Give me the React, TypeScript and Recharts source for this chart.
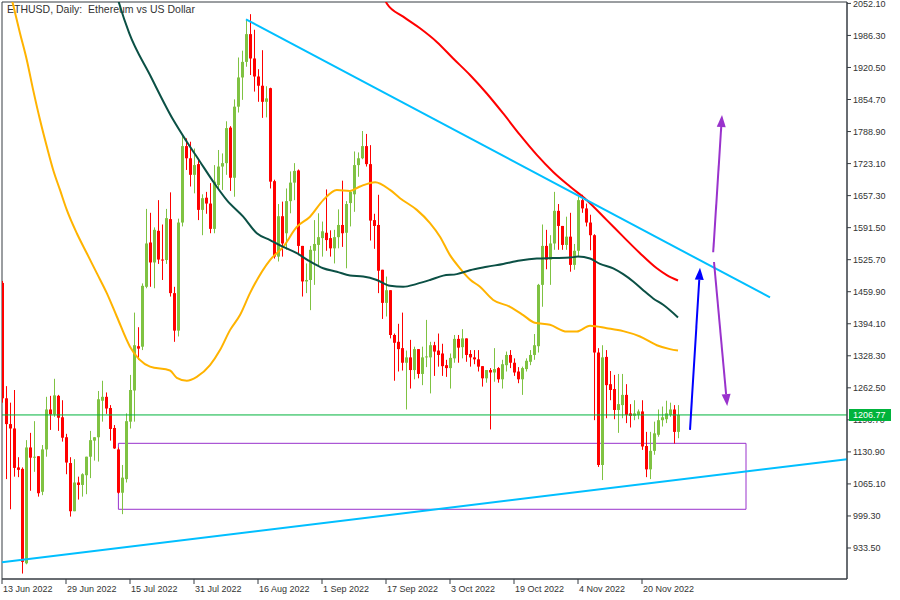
import React from "react";
import {
  ComposedChart, Bar, Line, XAxis, YAxis, ReferenceLine, ReferenceArea,
} from "recharts";

// daily ETHUSD candles, day 0 = 13 Jun 2022
const opens = [
  1478, 1241, 1188, 1179, 1099, 1096, 902, 1140, 1119, 1122,
  1049, 1136, 1218, 1208, 1246, 1202, 1161, 1108, 1009, 1068,
  1063, 1083, 1121, 1154, 1161, 1236, 1244, 1221, 1180, 1136,
  1047, 1075, 1193, 1257, 1348, 1347, 1470, 1561, 1520, 1585,
  1526, 1525, 1609, 1457, 1380, 1602, 1759, 1734, 1700, 1722,
  1628, 1653, 1641, 1589, 1679, 1717, 1724, 1797, 1694, 1840,
  1900, 1932, 1989, 1939, 1902, 1883, 1850, 1878, 1687, 1532,
  1615, 1580, 1646, 1684, 1709, 1554, 1481, 1484, 1544, 1556,
  1570, 1581, 1570, 1549, 1572, 1597, 1581, 1642, 1660, 1720,
  1734, 1759, 1722, 1607, 1597, 1505, 1437, 1463, 1371, 1357,
  1344, 1314, 1325, 1299, 1342, 1291, 1325, 1325, 1350, 1339,
  1333, 1309, 1303, 1323, 1363, 1346, 1364, 1332, 1325, 1321,
  1307, 1282, 1299, 1294, 1303, 1280, 1309, 1330, 1314, 1296,
  1280, 1301, 1316, 1330, 1348, 1474, 1554, 1526, 1559, 1626,
  1595, 1556, 1573, 1515, 1544, 1648, 1631, 1602, 1576, 1335,
  1104, 1326, 1270, 1260, 1217, 1227, 1248, 1210, 1205, 1207,
  1214, 1143, 1095, 1133, 1166, 1196, 1198, 1207, 1218, 1172,
];
const highs = [
  1482, 1266, 1232, 1258, 1120, 1099, 1155, 1170, 1194, 1122,
  1145, 1244, 1246, 1281, 1248, 1237, 1168, 1120, 1116, 1080,
  1087, 1121, 1174, 1161, 1256, 1277, 1253, 1227, 1186, 1140,
  1104, 1210, 1289, 1417, 1387, 1477, 1630, 1622, 1592, 1648,
  1598, 1630, 1664, 1470, 1610, 1782, 1775, 1768, 1754, 1732,
  1660, 1665, 1683, 1720, 1751, 1744, 1810, 1800, 1855, 1941,
  1955, 2019, 2030, 1998, 1917, 1956, 1882, 1879, 1690, 1640,
  1645, 1672, 1707, 1724, 1711, 1554, 1518, 1554, 1607, 1621,
  1604, 1670, 1586, 1587, 1629, 1688, 1646, 1668, 1748, 1746,
  1790, 1784, 1761, 1620, 1659, 1505, 1491, 1463, 1374, 1394,
  1417, 1339, 1361, 1347, 1342, 1347, 1402, 1357, 1357, 1374,
  1353, 1320, 1333, 1371, 1371, 1383, 1364, 1340, 1340, 1340,
  1307, 1299, 1303, 1344, 1305, 1320, 1337, 1340, 1323, 1305,
  1306, 1323, 1340, 1373, 1476, 1598, 1587, 1576, 1665, 1640,
  1595, 1614, 1622, 1558, 1655, 1659, 1641, 1618, 1578, 1344,
  1350, 1340, 1297, 1289, 1291, 1291, 1270, 1229, 1237, 1218,
  1237, 1172, 1172, 1193, 1218, 1224, 1236, 1232, 1227, 1227,
];
const lows = [
  1232, 1075, 1013, 1080, 1079, 881, 900, 1051, 1090, 1039,
  1042, 1121, 1176, 1203, 1174, 1152, 1085, 998, 1009, 1033,
  1039, 1044, 1077, 1113, 1111, 1193, 1209, 1154, 1137, 1045,
  1003, 1068, 1179, 1193, 1320, 1340, 1467, 1470, 1467, 1517,
  1484, 1517, 1450, 1357, 1368, 1594, 1710, 1676, 1662, 1607,
  1576, 1620, 1580, 1580, 1669, 1669, 1700, 1667, 1655, 1828,
  1854, 1922, 1905, 1871, 1850, 1817, 1818, 1672, 1528, 1522,
  1532, 1546, 1621, 1648, 1535, 1450, 1457, 1422, 1474, 1511,
  1532, 1544, 1532, 1518, 1549, 1552, 1508, 1594, 1624, 1696,
  1732, 1717, 1565, 1548, 1457, 1404, 1409, 1364, 1277, 1296,
  1298, 1218, 1261, 1280, 1282, 1268, 1305, 1251, 1287, 1306,
  1287, 1285, 1261, 1314, 1314, 1323, 1316, 1306, 1311, 1296,
  1265, 1273, 1177, 1275, 1273, 1261, 1296, 1303, 1287, 1272,
  1248, 1296, 1309, 1320, 1335, 1429, 1506, 1474, 1546, 1546,
  1546, 1546, 1501, 1505, 1531, 1622, 1594, 1545, 1196, 1100,
  1073, 1200, 1237, 1198, 1170, 1200, 1190, 1181, 1196, 1198,
  1135, 1079, 1075, 1125, 1162, 1183, 1190, 1203, 1148, 1159,
];
const closes = [
  1241, 1188, 1179, 1098, 1094, 905, 1140, 1119, 1121, 1046,
  1136, 1218, 1208, 1247, 1201, 1160, 1109, 1009, 1068, 1063,
  1085, 1121, 1155, 1161, 1239, 1244, 1220, 1178, 1138, 1047,
  1078, 1194, 1258, 1350, 1343, 1472, 1559, 1520, 1587, 1526,
  1524, 1611, 1457, 1380, 1602, 1759, 1734, 1700, 1720, 1628,
  1652, 1641, 1589, 1686, 1717, 1724, 1796, 1694, 1840, 1900,
  1932, 1989, 1939, 1902, 1883, 1850, 1857, 1686, 1532, 1615,
  1559, 1646, 1684, 1708, 1554, 1481, 1484, 1546, 1558, 1572,
  1584, 1566, 1549, 1572, 1597, 1580, 1640, 1665, 1720, 1734,
  1759, 1722, 1606, 1595, 1503, 1437, 1463, 1371, 1355, 1342,
  1314, 1325, 1299, 1342, 1291, 1325, 1327, 1350, 1337, 1330,
  1307, 1303, 1324, 1363, 1345, 1364, 1330, 1325, 1321, 1306,
  1282, 1299, 1294, 1301, 1280, 1311, 1330, 1314, 1294, 1280,
  1303, 1318, 1330, 1350, 1474, 1554, 1526, 1559, 1626, 1595,
  1556, 1573, 1515, 1544, 1648, 1631, 1602, 1576, 1335, 1104,
  1325, 1268, 1258, 1217, 1229, 1248, 1207, 1205, 1210, 1214,
  1142, 1095, 1133, 1169, 1196, 1202, 1210, 1218, 1172, 1206.77,
];

const dateTicks = [0, 16, 32, 48, 64, 80, 96, 112, 128, 144, 160];
const dateLabels = [
  "13 Jun 2022", "29 Jun 2022", "15 Jul 2022", "31 Jul 2022", "16 Aug 2022",
  "1 Sep 2022", "17 Sep 2022", "3 Oct 2022", "19 Oct 2022", "4 Nov 2022", "20 Nov 2022",
];
const priceTicks = [
  2052.1, 1986.3, 1920.5, 1854.7, 1788.9, 1723.1, 1657.3, 1591.5, 1525.7,
  1459.9, 1394.1, 1328.3, 1262.5, 1196.7, 1130.9, 1065.1, 999.3, 933.5,
];

// moving averages: [day, price]
const maOrange = [
  [2, 2076], [2.7, 2052], [4.5, 1991], [6.2, 1936], [7.8, 1874], [9.5, 1813],
  [11.2, 1758], [12.8, 1710], [14.5, 1669], [16.2, 1628], [18.7, 1580], [21.2, 1539],
  [23.7, 1498], [26.2, 1457], [28.7, 1409], [32, 1347], [37, 1306], [42, 1298],
  [43.7, 1283], [46.2, 1277], [48.7, 1285], [52, 1309], [54.5, 1340], [57, 1381],
  [59.5, 1412], [62, 1457], [67, 1525], [70.3, 1552], [73.7, 1593], [77, 1614],
  [80.3, 1648], [83.7, 1669], [87, 1667], [89.5, 1676], [93.3, 1685], [97, 1669],
  [99.5, 1652], [103.7, 1628], [107, 1601], [109.5, 1573], [112, 1535], [114.5, 1508],
  [117, 1485], [119.5, 1470], [122.8, 1443], [127, 1429], [130.3, 1412], [133.2, 1396],
  [137, 1392], [141.2, 1378], [143.7, 1378], [147, 1390], [151.2, 1385], [155.3, 1379],
  [159.5, 1368], [163.7, 1350], [167, 1342], [169, 1339],
];
const maGreen = [
  [28.5, 2075], [29.3, 2052], [31.8, 1991], [37, 1905], [42.8, 1813], [46.2, 1768],
  [49.5, 1727], [52.8, 1686], [56.2, 1648], [60.3, 1614], [63.7, 1580], [67, 1566],
  [70.3, 1552], [73.7, 1539], [77, 1522], [80.3, 1508], [83.7, 1501], [87, 1493],
  [90.3, 1491], [93.7, 1484], [97, 1472], [100.3, 1470], [103.7, 1476], [107, 1484],
  [110.3, 1493], [113.7, 1496], [117, 1504], [121.2, 1511], [125.3, 1517], [129.5, 1524],
  [133.7, 1528], [137.8, 1529], [142, 1530], [144, 1532], [147, 1528], [149.5, 1517],
  [152.8, 1508], [155.3, 1496], [157.8, 1481], [160.3, 1463], [162.8, 1446], [165.3, 1433],
  [169, 1407],
];
const maRed = [
  [95, 2074], [96.2, 2052], [100.3, 2025], [104.5, 2001], [108.7, 1973], [112.8, 1939],
  [117, 1905], [121.2, 1867], [125.3, 1826], [129.5, 1782], [133.7, 1741], [137.8, 1706],
  [142, 1676], [146.2, 1648], [151.2, 1607], [155.3, 1573], [159.5, 1539], [163.7, 1508],
  [166.2, 1494], [169, 1483],
];

// drawn objects: [day, price] pairs
const upperTrend = [[61, 2019.4], [192, 1448.2]];
const lowerTrend = [[0, 904], [211.25, 1116]];
const blueArrow = [[172, 1176], [174.5, 1509]];
const purpleUp = [[177.8, 1541], [180, 1823]];
const purpleDown = [[178, 1521], [181.3, 1225]];
const zoneDays = [29.1, 186];
const zonePrices = [1013, 1148.5];
const lastPrice = 1206.77;

const dayDomain = [0, 211.25];
const priceDomain = [869.8, 2055];
const PLOT_TOP = 2;
const PLOT_BOTTOM = 579;

const BULL = "#7fc242";
const BEAR = "#ff0000";
const FRAME = "#363c42";
const TEXT = "#333333";
const TAG = "#00b33c";
const FONT = "'Liberation Sans', Arial, sans-serif";

const candles = opens.map((o, i) => ({
  d: i, o, h: highs[i], l: lows[i], c: closes[i], range: [lows[i], highs[i]],
}));
const toPts = (arr: number[][]) => arr.map(([d, v]) => ({ d, v }));
const seg = (arr: number[][]) => arr.map(([x, y]) => ({ x, y }));

// y of the last-price tag, same linear mapping as the right axis
const tagY = PLOT_TOP + ((priceDomain[1] - lastPrice) / (priceDomain[1] - priceDomain[0])) * (PLOT_BOTTOM - PLOT_TOP);

const Candle = (props: any) => {
  const { x, y, width, height, payload } = props;
  const { o, h, l, c } = payload;
  const cx = Math.round(x + width / 2);
  const span = h - l || 1;
  const py = (p: number) => y + ((h - p) / span) * height;
  const color = c >= o ? BULL : BEAR;
  const top = py(Math.max(o, c));
  const bot = py(Math.min(o, c));
  return (
    <g>
      <line x1={cx + 0.5} x2={cx + 0.5} y1={y} y2={y + height} stroke={color} strokeWidth={1} />
      <rect x={cx - 1} y={top} width={3} height={Math.max(1, bot - top)} fill={color} />
    </g>
  );
};

const arrowShape = (color: string) => (props: any) => {
  const { x1, y1, x2, y2 } = props;
  const dx = x2 - x1, dy = y2 - y1;
  const len = Math.sqrt(dx * dx + dy * dy) || 1;
  const ux = dx / len, uy = dy / len;
  const bx = x2 - ux * 12, by = y2 - uy * 12;
  const pts = `${x2},${y2} ${bx - uy * 4.5},${by + ux * 4.5} ${bx + uy * 4.5},${by - ux * 4.5}`;
  return (
    <g>
      <line x1={x1} y1={y1} x2={bx} y2={by} stroke={color} strokeWidth={2} />
      <polygon points={pts} fill={color} />
    </g>
  );
};

const DateTick = (props: any) => {
  const { x, payload } = props;
  const i = dateTicks.indexOf(payload.value);
  return (
    <text x={x + 1} y={592} fontSize={9} fontFamily={FONT} fill={TEXT} textAnchor="start">
      {dateLabels[i]}
    </text>
  );
};

const PriceTick = (props: any) => {
  const { x, y, payload } = props;
  return (
    <text x={x} y={y + 3.3} fontSize={9} fontFamily={FONT} fill={TEXT} textAnchor="start">
      {Number(payload.value).toFixed(2)}
    </text>
  );
};

export default function App() {
  return (
    <div style={{ position: "absolute", left: 0, top: 0, width: 900, height: 600, background: "#fff" }}>
      <div style={{
        position: "absolute", left: 7, top: 3, fontSize: 10.5, fontFamily: FONT, color: TEXT,
        whiteSpace: "pre",
      }}>
        {"ETHUSD, Daily:  Ethereum vs US Dollar"}
      </div>
      <div style={{ position: "absolute", left: 0, top: 0 }}>
        <ComposedChart width={900} height={600} data={candles}
          margin={{ top: PLOT_TOP, right: 0, bottom: 0, left: 2 }}>
          <XAxis dataKey="d" type="number" domain={dayDomain} allowDataOverflow
            ticks={dateTicks} interval={0} tick={<DateTick />} height={600 - PLOT_BOTTOM}
            tickSize={5} tickLine={{ stroke: FRAME }} axisLine={{ stroke: FRAME }} />
          <YAxis orientation="right" type="number" domain={priceDomain} allowDataOverflow
            ticks={priceTicks} interval={0} width={53} tickSize={4}
            tick={<PriceTick />} tickLine={{ stroke: FRAME }} axisLine={{ stroke: FRAME }} />
          <ReferenceArea x1={dayDomain[0]} x2={dayDomain[1]} y1={priceDomain[0]} y2={priceDomain[1]}
            fill="none" fillOpacity={0} stroke={FRAME} strokeWidth={1} />
          <ReferenceArea x1={zoneDays[0]} x2={zoneDays[1]} y1={zonePrices[0]} y2={zonePrices[1]}
            fill="none" fillOpacity={0} stroke="#9932cc" strokeWidth={1} />
          <ReferenceLine y={lastPrice} stroke={TAG} strokeWidth={1} />
          <Line data={toPts(maOrange)} dataKey="v" type="monotone" stroke="#ffb300"
            strokeWidth={2} dot={false} isAnimationActive={false} />
          <Line data={toPts(maGreen)} dataKey="v" type="monotone" stroke="#0b5045"
            strokeWidth={2} dot={false} isAnimationActive={false} />
          <Line data={toPts(maRed)} dataKey="v" type="monotone" stroke="#ff0000"
            strokeWidth={2} dot={false} isAnimationActive={false} />
          <Bar dataKey="range" barSize={3} shape={<Candle />} isAnimationActive={false} />
          <ReferenceLine segment={seg(upperTrend)} stroke="#00bfff" strokeWidth={2} />
          <ReferenceLine segment={seg(lowerTrend)} stroke="#00bfff" strokeWidth={2} />
          <ReferenceLine segment={seg(blueArrow)} shape={arrowShape("#0000ff")} />
          <ReferenceLine segment={seg(purpleUp)} shape={arrowShape("#9932cc")} />
          <ReferenceLine segment={seg(purpleDown)} shape={arrowShape("#9932cc")} />
        </ComposedChart>
      </div>
      <div style={{
        position: "absolute", left: 849, top: tagY - 6, width: 42, height: 12, lineHeight: "12px",
        background: TAG, color: "#ffffff", fontSize: 9, fontFamily: FONT, paddingLeft: 4,
        boxSizing: "border-box",
      }}>
        {lastPrice.toFixed(2)}
      </div>
    </div>
  );
}
